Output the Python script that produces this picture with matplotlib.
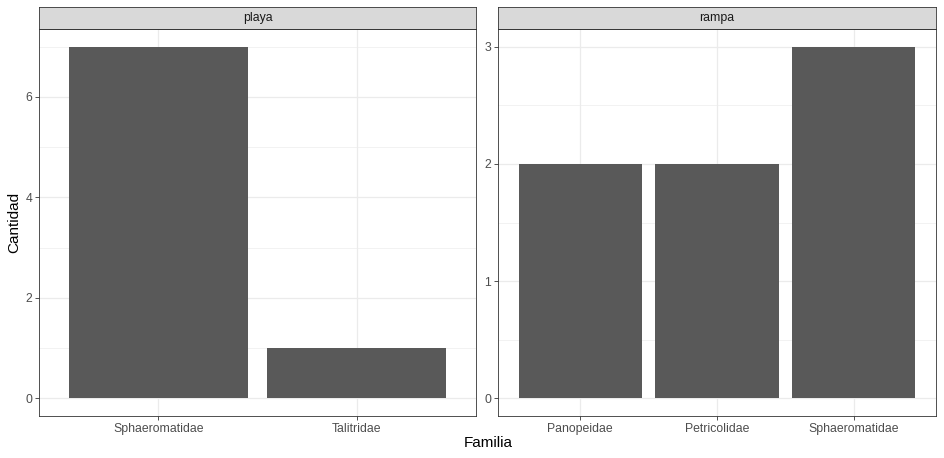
import matplotlib.pyplot as plt
from matplotlib.ticker import MultipleLocator

plt.rcParams['font.family'] = ['Liberation Sans', 'DejaVu Sans']

# data per facet
playa_familias = ['Sphaeromatidae', 'Talitridae']
playa_cantidad = [7, 1]
rampa_familias = ['Panopeidae', 'Petricolidae', 'Sphaeromatidae']
rampa_cantidad = [2, 2, 3]

panels = [
    ('playa', playa_familias, playa_cantidad, 2, 1),
    ('rampa', rampa_familias, rampa_cantidad, 1, 0.5),
]

W, H = 944, 458
fig = plt.figure(figsize=(W / 100, H / 100), dpi=100)

# panel positions in pixels (left, right)
pos = [(39, 476), (498, 936)]
p_top, p_bot = 29, 416
s_top = 7

for (name, fams, vals, major, minor), (x0, x1) in zip(panels, pos):
    ax = fig.add_axes([x0 / W, 1 - p_bot / H, (x1 - x0) / W, (p_bot - p_top) / H])
    xs = range(len(fams))
    ax.bar(xs, vals, width=0.9, color='#595959', zorder=3)
    ax.set_xlim(-0.6, len(fams) - 0.4)
    ymax = max(vals)
    ax.set_ylim(-0.05 * ymax, ymax * 1.05)
    ax.set_xticks(list(xs))
    ax.set_xticklabels(fams)
    ax.yaxis.set_major_locator(MultipleLocator(major))
    ax.yaxis.set_minor_locator(MultipleLocator(minor))
    ax.grid(which='major', color='#EBEBEB', linewidth=0.9, zorder=0)
    ax.grid(which='minor', axis='y', color='#EBEBEB', linewidth=0.45, zorder=0)
    ax.tick_params(which='major', length=3, width=0.6, color='#333333',
                   labelsize=8.8, labelcolor='#4D4D4D', pad=2)
    ax.tick_params(which='minor', length=0)
    for sp in ax.spines.values():
        sp.set_color('#333333')
        sp.set_linewidth(0.6)
        sp.set_zorder(4)

    # strip
    sax = fig.add_axes([x0 / W, 1 - p_top / H, (x1 - x0) / W, (p_top - s_top) / H])
    sax.set_facecolor('#D9D9D9')
    sax.set_xticks([])
    sax.set_yticks([])
    for sp in sax.spines.values():
        sp.set_color('#333333')
        sp.set_linewidth(0.6)
    sax.text(0.5, 0.5, name, ha='center', va='center', fontsize=8.8,
             color='#1A1A1A', transform=sax.transAxes)

fig.text(488 / W, 1 - 443 / H, 'Familia', ha='center', va='center', fontsize=11)
fig.text(14 / W, 1 - 222 / H, 'Cantidad', ha='center', va='center',
         rotation=90, fontsize=11)

fig.savefig('out.png', dpi=100)
